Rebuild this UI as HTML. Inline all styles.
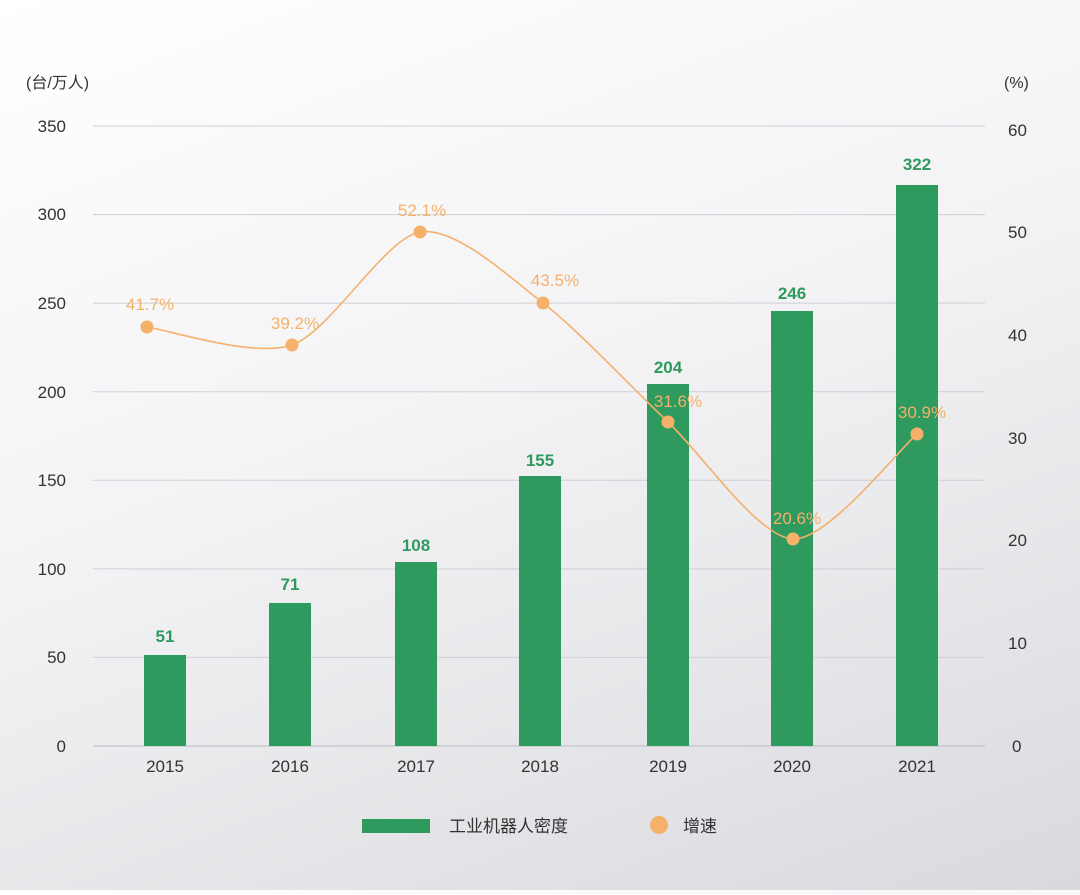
<!DOCTYPE html>
<html><head><meta charset="utf-8"><style>
body{margin:0;width:1080px;height:890px;overflow:hidden;background:linear-gradient(160deg,#ffffff 0%,#f3f3f5 45%,#d9dade 100%);font-family:"Liberation Sans","Noto Sans CJK SC",sans-serif;}
svg text{font-family:"Liberation Sans","Noto Sans CJK SC",sans-serif;}
</style></head><body>
<svg width="1080" height="890" xmlns="http://www.w3.org/2000/svg">
<g stroke="#cfd0d4" stroke-width="1">
<line x1="93" x2="985" y1="126" y2="126"/><line x1="93" x2="985" y1="214.6" y2="214.6"/><line x1="93" x2="985" y1="303.1" y2="303.1"/><line x1="93" x2="985" y1="391.7" y2="391.7"/><line x1="93" x2="985" y1="480.3" y2="480.3"/><line x1="93" x2="985" y1="568.9" y2="568.9"/><line x1="93" x2="985" y1="657.4" y2="657.4"/><line x1="93" x2="985" y1="746" y2="746" stroke="#bbbcc0"/>
</g>
<g font-size="17" fill="#333" text-anchor="end">
<text x="66" y="132">350</text><text x="66" y="220">300</text><text x="66" y="309">250</text><text x="66" y="398">200</text><text x="66" y="486">150</text><text x="66" y="575">100</text><text x="66" y="663">50</text><text x="66" y="752">0</text>
</g>
<g font-size="17" fill="#333" text-anchor="start">
<text x="1008" y="136">60</text><text x="1008" y="238">50</text><text x="1008" y="341">40</text><text x="1008" y="444">30</text><text x="1008" y="546">20</text><text x="1008" y="649">10</text><text x="1012" y="752">0</text>
</g>
<text x="26" y="88" font-size="16" fill="#333">(台/万人)</text>
<text x="1004" y="88" font-size="16" fill="#333">(%)</text>
<g fill="#2e9a5e">
<rect x="144" y="655" width="42" height="91"/><rect x="269" y="603" width="42" height="143"/><rect x="395" y="562" width="42" height="184"/><rect x="519" y="476" width="42" height="270"/><rect x="647" y="384" width="42" height="362"/><rect x="771" y="311" width="42" height="435"/><rect x="896" y="185" width="42" height="561"/>
</g>
<g font-size="17" fill="#2e9a5e" text-anchor="middle" font-weight="bold">
<text x="165" y="642">51</text><text x="290" y="590">71</text><text x="416" y="551">108</text><text x="540" y="466">155</text><text x="668" y="373">204</text><text x="792" y="299">246</text><text x="917" y="170">322</text>
</g>
<g font-size="17" fill="#333" text-anchor="middle">
<text x="165" y="772">2015</text><text x="290" y="772">2016</text><text x="416" y="772">2017</text><text x="540" y="772">2018</text><text x="668" y="772">2019</text><text x="792" y="772">2020</text><text x="917" y="772">2021</text>
</g>
<path id="ln" fill="none" stroke="#f5b06a" stroke-width="1.6"/>
<g fill="#f5b06a">
<circle cx="147" cy="327" r="6.5"/><circle cx="292" cy="345" r="6.5"/><circle cx="420" cy="232" r="6.5"/><circle cx="543" cy="303" r="6.5"/><circle cx="668" cy="422" r="6.5"/><circle cx="793" cy="539" r="6.5"/><circle cx="917" cy="434" r="6.5"/>
</g>
<g font-size="17" fill="#f5b06a" text-anchor="middle">
<text x="150" y="310">41.7%</text><text x="295" y="329">39.2%</text><text x="422" y="216">52.1%</text><text x="555" y="286">43.5%</text><text x="678" y="407">31.6%</text><text x="797" y="524">20.6%</text><text x="922" y="418">30.9%</text>
</g>
<rect x="362" y="819" width="68" height="14" fill="#2e9a5e"/>
<text x="449" y="832" font-size="17" fill="#333">工业机器人密度</text>
<circle cx="659" cy="825" r="9" fill="#f5b06a"/>
<text x="683" y="832" font-size="17" fill="#333">增速</text>
</svg>
<script>
var p=[[147,327],[292,345],[420,232],[543,303],[668,422],[793,539],[917,434]];
var d="M"+p[0];
for(var i=0;i<p.length-1;i++){var a=p[i-1]||p[i],b=p[i],c=p[i+1],e=p[i+2]||c,t=0.14;
d+=" C"+(b[0]+(c[0]-a[0])*t)+","+(b[1]+(c[1]-a[1])*t)+" "+(c[0]-(e[0]-b[0])*t)+","+(c[1]-(e[1]-b[1])*t)+" "+c[0]+","+c[1];}
document.getElementById("ln").setAttribute("d",d);
</script>
</body></html>
